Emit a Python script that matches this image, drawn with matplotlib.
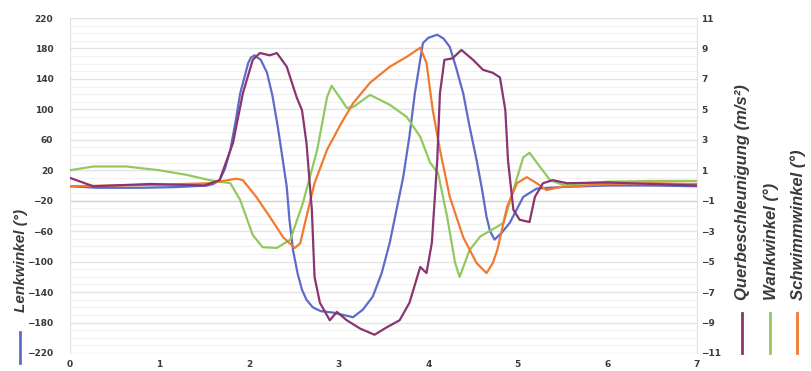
import matplotlib
matplotlib.use('Agg')
import matplotlib.pyplot as plt
from matplotlib.lines import Line2D
import numpy as np

# Lenkwinkel (deg), left axis
t_lenk = [0, 0.3, 0.8, 1.2, 1.53, 1.60, 1.67, 1.73, 1.79, 1.85, 1.90, 1.99, 2.02, 2.06, 2.13, 2.20,
          2.26, 2.32, 2.37, 2.42, 2.45, 2.49, 2.54, 2.59, 2.64, 2.71, 2.80, 2.94, 3.16, 3.27,
          3.38, 3.48, 3.57, 3.64, 3.72, 3.79, 3.85, 3.94, 4.00, 4.10, 4.17, 4.24, 4.31, 4.39,
          4.46, 4.54, 4.60, 4.65, 4.69, 4.74, 4.82, 4.91, 5.06, 5.21, 5.5, 6.0, 6.5, 7.0]
lenkwinkel = [-1, -3, -3, -2, 0, 2, 7, 22, 47, 85, 121, 161, 168, 171, 165, 148,
              118, 77, 38, -2, -45, -85, -115, -137, -150, -160, -165, -167, -173, -163,
              -146, -115, -75, -35, 11, 65, 121, 187, 194, 198, 193, 182, 155, 121,
              78, 33, -5, -41, -60, -71, -62, -49, -15, -4, -2, 0, 0, -1]

# Querbeschleunigung (m/s^2), right axis
t_quer = [0, 0.26, 0.9, 1.5, 1.67, 1.82, 1.93, 2.04, 2.12, 2.23, 2.31, 2.42, 2.53, 2.59, 2.64,
          2.70, 2.73, 2.79, 2.90, 2.98, 3.09, 3.24, 3.40, 3.54, 3.68, 3.79, 3.91, 3.98, 4.04,
          4.10, 4.13, 4.18, 4.27, 4.37, 4.50, 4.61, 4.72, 4.80, 4.86, 4.89, 4.95, 5.02, 5.13,
          5.19, 5.28, 5.39, 5.55, 6.0, 6.5, 7.0]
querbeschl = [0.5, -0.05, 0.1, 0.0, 0.35, 2.8, 6.05, 8.25, 8.7, 8.55, 8.7, 7.8, 5.8, 4.95, 2.8,
              -1.6, -6.0, -7.7, -8.85, -8.3, -8.85, -9.4, -9.8, -9.3, -8.85, -7.7, -5.35, -5.75, -3.75,
              1.65, 6.05, 8.25, 8.35, 8.9, 8.25, 7.6, 7.4, 7.1, 4.95, 1.65, -1.6, -2.25, -2.4,
              -0.75, 0.15, 0.35, 0.15, 0.2, 0.1, 0.0]

# Wankwinkel (deg), right axis
t_wank = [0, 0.26, 0.63, 1.0, 1.3, 1.56, 1.79, 1.9, 2.04, 2.15, 2.31, 2.46, 2.60, 2.76, 2.87,
          2.92, 3.01, 3.09, 3.16, 3.35, 3.57, 3.76, 3.91, 4.02, 4.11, 4.21, 4.30, 4.35, 4.46,
          4.58, 4.77, 4.84, 4.95, 5.06, 5.13, 5.25, 5.36, 5.5, 6.0, 6.5, 7.0]
wankwinkel = [1.0, 1.25, 1.25, 1.0, 0.7, 0.35, 0.15, -0.95, -3.25, -4.05, -4.1, -3.55, -1.15, 2.35, 5.8,
              6.55, 5.8, 5.1, 5.15, 5.95, 5.3, 4.5, 3.2, 1.5, 0.8, -2.05, -5.1, -6.0, -4.25,
              -3.35, -2.7, -2.45, -0.3, 1.85, 2.15, 1.2, 0.35, 0.05, 0.25, 0.3, 0.3]

# Schwimmwinkel (deg), right axis
t_schwimm = [0, 0.5, 1.0, 1.56, 1.86, 1.93, 2.08, 2.23, 2.38, 2.51, 2.57, 2.64, 2.73, 2.87, 3.02,
             3.16, 3.35, 3.57, 3.76, 3.91, 3.98, 4.05, 4.13, 4.24, 4.39, 4.54, 4.65, 4.72, 4.77,
             4.88, 4.99, 5.1, 5.21, 5.32, 5.47, 6.0, 6.5, 7.0]
schwimmwinkel = [-0.05, 0, 0.05, 0.15, 0.45, 0.35, -0.75, -2.05, -3.4, -4.1, -3.8, -2.05, 0.15, 2.35, 4.0,
                 5.4, 6.75, 7.8, 8.45, 9.05, 8.05, 4.95, 2.35, -0.75, -3.4, -5.1, -5.75, -5.1, -4.25,
                 -1.4, 0.15, 0.55, 0.15, -0.3, -0.1, 0.1, 0.15, 0.1]

left_ticks = list(range(-220, 221, 40))
right_ticks = list(range(-11, 12, 2))
x_ticks = list(range(0, 8))

c_blue = '#5c6cc8'
c_purple = '#8a3470'
c_green = '#92c95e'
c_orange = '#f27a2e'
txt = '#3a3a3a'

fig = plt.figure(figsize=(8.11, 3.71), dpi=100)
ax = fig.add_axes([70/811, 1 - 353/371, 627/811, 335/371])
ax2 = ax.twinx()

# grid
for v in np.arange(-220, 221, 10):
    ax.axhline(v, color='#f1f1f1', lw=0.8, zorder=0)
for v in left_ticks:
    ax.axhline(v, color='#e3e3e3', lw=0.9, zorder=0)
ax.axhline(-20, color='#d2d2d2', lw=1.0, zorder=0)

ax.plot(t_lenk, lenkwinkel, color=c_blue, lw=1.6, zorder=3)
ax2.plot(t_quer, querbeschl, color=c_purple, lw=1.6, zorder=3)
ax2.plot(t_wank, wankwinkel, color=c_green, lw=1.6, zorder=2)
ax2.plot(t_schwimm, schwimmwinkel, color=c_orange, lw=1.6, zorder=2)

ax.set_xlim(0, 7)
ax.set_ylim(-220, 220)
ax2.set_ylim(-11, 11)
ax.set_xticks(x_ticks)
ax.set_yticks(left_ticks)
ax2.set_yticks(right_ticks)

ax.tick_params(axis='y', length=0, pad=12, labelsize=6.5, labelcolor=txt)
ax.tick_params(axis='x', length=0, pad=5, labelsize=6.5, labelcolor=txt)
ax2.tick_params(axis='y', length=0, pad=3, labelsize=6.5, labelcolor=txt)
for a in (ax, ax2):
    for s in a.spines.values():
        s.set_visible(False)
ax.spines['left'].set_visible(True)
ax.spines['left'].set_color('#e0e0e0')
ax2.spines['right'].set_visible(True)
ax2.spines['right'].set_color('#e0e0e0')
for lab in ax.get_xticklabels() + ax.get_yticklabels() + ax2.get_yticklabels():
    lab.set_fontweight('bold')

# axis titles with colour markers: (text, colour, x, text bottom, marker top, marker bottom, size)
labels = [('Lenkwinkel (°)', c_blue, 20, 312, 332, 363, 11),
          ('Querbeschleunigung (m/s²)', c_purple, 742, 300, 313, 353, 12),
          ('Wankwinkel (°)', c_green, 770, 300, 313, 353, 12),
          ('Schwimmwinkel (°)', c_orange, 797, 300, 313, 353, 12)]
for text, col, xp, yb, m0, m1, fs in labels:
    fig.text((xp + 1) / 811, 1 - yb/371, text, rotation=90, ha='center', va='bottom',
             fontsize=fs, style='italic', fontweight='bold', color=txt,
             family='Liberation Sans')
    fig.add_artist(Line2D([xp/811, xp/811], [1 - m1/371, 1 - m0/371],
                          color=col, lw=2, transform=fig.transFigure))

fig.savefig('out.png', dpi=100)
